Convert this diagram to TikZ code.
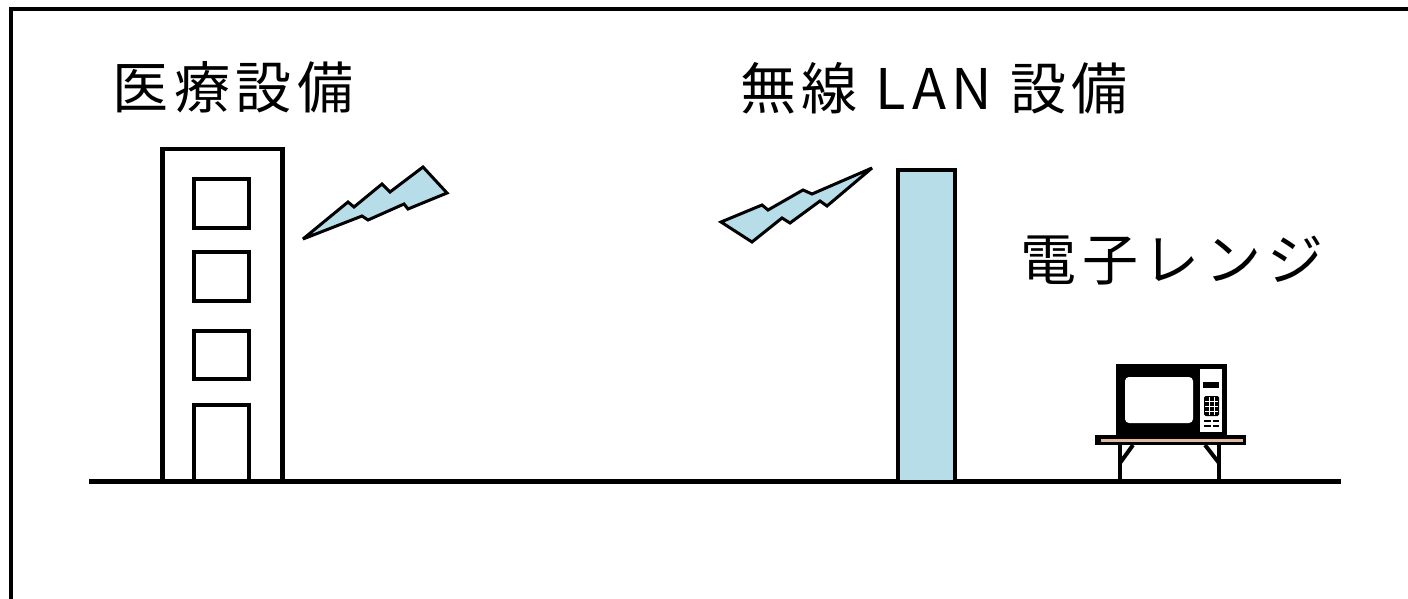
\documentclass[tikz,border=0pt]{standalone}
\usepackage{fontspec}
\newfontfamily\jpfont{Noto Sans CJK JP}[LetterSpace=10]
\definecolor{waveblue}{RGB}{183,222,232}
\definecolor{tabletan}{RGB}{222,185,160}
\begin{document}
\begin{tikzpicture}[x=1pt,y=-1pt,
  caption/.style={font=\jpfont\fontsize{56}{60}\selectfont, inner sep=0pt, anchor=center},
  outline/.style={draw=black, line width=4.5pt},
  pane/.style={draw=black, line width=4pt, fill=white},
  bolt/.style={draw=black, fill=waveblue, line width=3pt, line join=miter, miter limit=4},
  leg/.style={line width=4pt}]
\useasboundingbox (0,0) rectangle (1408,599);

% outer frame (open to the right and bottom)
\draw[line width=4pt] (10.5,603) -- (10.5,9.5) -- (1412,9.5);

% captions
\node[caption] (medical) at (233,87) {医療設備};
\node[caption] (wlan) at (934,88) {無線 LAN 設備};
\node[caption] (oven) at (1172,261) {電子レンジ};

% medical building
\draw[outline, fill=white] (162.5,481) -- (162.5,149) -- (282.5,149) -- (282.5,481);
\draw[pane] (194,179) rectangle (249,228);
\draw[pane] (194,252) rectangle (249,301);
\draw[pane] (194,331) rectangle (249,379);
\draw[pane] (194,481) -- (194,405) -- (249,405) -- (249,481);

% radio waves
\draw[bolt] (303,239) -- (348,202) -- (354,207) -- (382,184) -- (390,192)
  -- (423,167) -- (447,193) -- (408,209) -- (404,204) -- (368,220) -- (362,216) -- cycle;
\draw[bolt] (721,222) -- (762,205) -- (768,210) -- (803,190) -- (812,194)
  -- (872,168) -- (827,206) -- (820,201) -- (790,223) -- (782,218) -- (752,242) -- cycle;

% microwave table
\fill[black] (1095,435) rectangle (1246,445);
\fill[tabletan] (1101,439) rectangle (1243,442);
\draw[leg] (1120,445) -- (1120,481);
\draw[leg] (1219,445) -- (1219,481);
\draw[leg] (1133,445) -- (1120,463);
\draw[leg] (1205,445) -- (1219,463);

% microwave oven
\fill[black] (1116,364) rectangle (1227,435);
\fill[white, rounded corners=4pt] (1125,377) rectangle (1193,423);
\fill[white] (1200,369) rectangle (1222,432);
\fill[black] (1203,382) rectangle (1219,388);
\fill[black, rounded corners=1.5pt] (1204,396) rectangle (1219,416);
\draw[white, line width=1pt] (1209,397) -- (1209,415) (1214,397) -- (1214,415)
  (1205,401) -- (1218,401) (1205,406) -- (1218,406) (1205,411) -- (1218,411);
\draw[line width=1.6pt] (1204,421) -- (1211,421) (1213,421) -- (1219,421)
  (1204,426) -- (1211,426) (1213,426) -- (1219,426);

% ground line
\draw[line width=5pt] (89,481) -- (1341,481);

% wireless LAN pillar
\draw[outline, fill=waveblue] (898,170) rectangle (955,482);
\end{tikzpicture}
\end{document}
